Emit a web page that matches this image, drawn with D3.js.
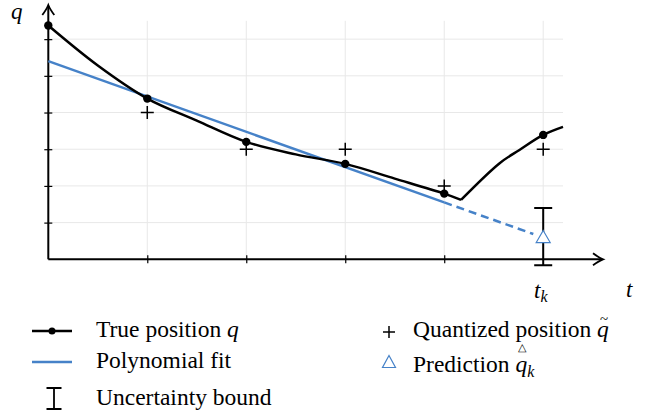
<html><body style="margin:0">
<svg width="650" height="416"></svg>
<script src="https://d3js.org/d3.v7.min.js"></script>
<script>

// true trajectory (sampled dots) and the curve through it
var dotT = [0, 1, 2, 3, 4, 5];
var dotQ = [6.37, 4.38, 3.2, 2.6, 1.79, 3.39];
var curveT1 = [0, 0.5, 1, 1.5, 2, 2.5, 3, 3.5, 4, 4.17];
var curveQ1 = [6.37, 5.28, 4.38, 3.78, 3.2, 2.86, 2.6, 2.2, 1.79, 1.62];
var curveT2 = [4.17, 4.56, 4.76, 5, 5.2];
var curveQ2 = [1.62, 2.62, 2.98, 3.39, 3.61];

// quantized positions
var quantT = [1, 2, 3, 4, 5];
var quantQ = [4, 3, 3, 2, 3];

// polynomial fit, solid then dashed extrapolation
var fitT = [0, 4];
var fitQ = [5.4, 1.55];
var extT = [4, 4.9];
var extQ = [1.55, 0.69];

// prediction and its bound
var predT = 5;
var predQ = 0.62;
var bound = 0.78;

var xTicks = [1, 2, 3, 4];
var yTicks = [1, 2, 3, 4, 5, 6];
var gridX = [1, 2, 3, 4, 5];

var blue = "#4682c8";
var fam = "'Liberation Serif'";

var svg = d3.select("svg");

var x = d3.scaleLinear().domain([0, 5.2]).range([48.3, 563]);
var y = d3.scaleLinear().domain([0, 6.5]).range([259.3, 20.8]);

// grid
var grid = svg.append("g").attr("stroke", "#e8e8e8").attr("stroke-width", 1);
grid.selectAll(".gx").data(gridX).enter().append("line")
    .attr("x1", function(d) { return x(d); }).attr("x2", function(d) { return x(d); })
    .attr("y1", y(0)).attr("y2", y(6.5));
grid.selectAll(".gy").data(yTicks).enter().append("line")
    .attr("y1", function(d) { return y(d); }).attr("y2", function(d) { return y(d); })
    .attr("x1", x(0)).attr("x2", x(5.2));

// axes with ticks crossing the line
var xAxis = svg.append("g").attr("transform", "translate(0," + y(0) + ")")
    .call(d3.axisBottom(x).tickValues(xTicks).tickSize(4).tickFormat(""));
xAxis.select(".domain").remove();
xAxis.selectAll(".tick line").attr("y1", -4).attr("y2", 4).attr("stroke-width", 1.2);

var yAxis = svg.append("g").attr("transform", "translate(" + x(0) + ",0)")
    .call(d3.axisLeft(y).tickValues(yTicks).tickSize(4).tickFormat(""));
yAxis.select(".domain").remove();
yAxis.selectAll(".tick line").attr("x1", -4).attr("x2", 4).attr("stroke-width", 1.2);

svg.append("line").attr("x1", x(0)).attr("x2", 602).attr("y1", y(0)).attr("y2", y(0))
    .attr("stroke", "#000").attr("stroke-width", 2);
svg.append("line").attr("x1", x(0)).attr("x2", x(0)).attr("y1", y(0)).attr("y2", 6)
    .attr("stroke", "#000").attr("stroke-width", 2);
// arrow heads
var ax = 603, ay = y(0);
svg.append("path")
    .attr("d", "M" + (ax - 10) + "," + (ay - 6) + " Q" + (ax - 4) + "," + (ay - 1.5) + " " + ax + "," + ay +
               " Q" + (ax - 4) + "," + (ay + 1.5) + " " + (ax - 10) + "," + (ay + 6))
    .attr("fill", "none").attr("stroke", "#000").attr("stroke-width", 1.8);
var bx = x(0), by = 5;
svg.append("path")
    .attr("d", "M" + (bx - 6) + "," + (by + 10) + " Q" + (bx - 1.5) + "," + (by + 4) + " " + bx + "," + by +
               " Q" + (bx + 1.5) + "," + (by + 4) + " " + (bx + 6) + "," + (by + 10))
    .attr("fill", "none").attr("stroke", "#000").attr("stroke-width", 1.8);

// fit line
var lineFit = d3.line().x(function(d) { return x(d[0]); }).y(function(d) { return y(d[1]); });
svg.append("path").datum(d3.zip(fitT, fitQ)).attr("d", lineFit)
    .attr("fill", "none").attr("stroke", blue).attr("stroke-width", 2.5);
svg.append("path").datum(d3.zip(extT, extQ)).attr("d", lineFit)
    .attr("fill", "none").attr("stroke", blue).attr("stroke-width", 2.5)
    .attr("stroke-dasharray", "8,5");

// true trajectory
var lineTrue = d3.line().curve(d3.curveCatmullRom)
    .x(function(d) { return x(d[0]); }).y(function(d) { return y(d[1]); });
svg.append("path").datum(d3.zip(curveT1, curveQ1)).attr("d", lineTrue)
    .attr("fill", "none").attr("stroke", "#000").attr("stroke-width", 2.5).attr("stroke-linejoin", "round");
svg.append("path").datum(d3.zip(curveT2, curveQ2)).attr("d", lineTrue)
    .attr("fill", "none").attr("stroke", "#000").attr("stroke-width", 2.5).attr("stroke-linejoin", "round");
svg.selectAll(".dot").data(d3.zip(dotT, dotQ)).enter().append("circle")
    .attr("cx", function(d) { return x(d[0]); }).attr("cy", function(d) { return y(d[1]); })
    .attr("r", 4.2).attr("fill", "#000");

// quantized crosses
var cr = 6.5;
svg.selectAll(".cross").data(d3.zip(quantT, quantQ)).enter().append("path")
    .attr("d", function(d) {
      var cx = x(d[0]), cy = y(d[1]);
      return "M" + (cx - cr) + "," + cy + "H" + (cx + cr) + "M" + cx + "," + (cy - cr) + "V" + (cy + cr);
    })
    .attr("stroke", "#000").attr("stroke-width", 1.5);

// uncertainty bound
var ex = x(predT), eTop = y(predQ + bound), eBot = y(predQ - bound);
svg.append("path")
    .attr("d", "M" + ex + "," + eTop + "V" + eBot + "M" + (ex - 9) + "," + eTop + "H" + (ex + 9) +
               "M" + (ex - 9) + "," + eBot + "H" + (ex + 9))
    .attr("stroke", "#000").attr("stroke-width", 2).attr("fill", "none");

// prediction triangle
function tri(cx, cy, w, h) {
  return "M" + cx + "," + (cy - h / 2) + "L" + (cx + w / 2) + "," + (cy + h / 2) + "L" + (cx - w / 2) + "," + (cy + h / 2) + "Z";
}
svg.append("path").attr("d", tri(x(predT), y(predQ), 14, 12))
    .attr("fill", "#fff").attr("stroke", blue).attr("stroke-width", 1.2);

function label(g, px, py, size) {
  return g.append("text").attr("x", px).attr("y", py).attr("font-size", size)
      .style("font-family", fam);
}

// axis labels
label(svg, 11, 19, 23).style("font-style", "italic").text("q");
label(svg, 626, 297, 23).style("font-style", "italic").text("t");
var tk = label(svg, 534, 298, 23).style("font-style", "italic");
tk.append("tspan").text("t");
tk.append("tspan").attr("dy", 4).attr("font-size", 16).text("k");

// legend
var fs = 23.5;
var lg = svg.append("g");
lg.append("line").attr("x1", 32).attr("x2", 72).attr("y1", 331).attr("y2", 331)
    .attr("stroke", "#000").attr("stroke-width", 2.5);
lg.append("circle").attr("cx", 52).attr("cy", 331).attr("r", 3.5).attr("fill", "#000");
var t1 = label(lg, 96, 337, fs);
t1.append("tspan").text("True position ");
t1.append("tspan").style("font-style", "italic").text("q");

lg.append("line").attr("x1", 32).attr("x2", 72).attr("y1", 362).attr("y2", 362)
    .attr("stroke", blue).attr("stroke-width", 2.5);
label(lg, 96, 368, fs).text("Polynomial fit");

lg.append("path").attr("d", "M46.5,388H61.5M54,388V409M46.5,409H61.5")
    .attr("stroke", "#000").attr("stroke-width", 1.8).attr("fill", "none");
label(lg, 96, 405, fs).text("Uncertainty bound");

lg.append("path").attr("d", "M383,332H395M389,326V338").attr("stroke", "#000").attr("stroke-width", 1.5);
var t2 = label(lg, 413, 337, fs);
t2.append("tspan").text("Quantized position ");
var qq = t2.append("tspan").style("font-style", "italic").text("q");

lg.append("path").attr("d", tri(389, 361.5, 13, 12)).attr("fill", "none")
    .attr("stroke", blue).attr("stroke-width", 1.2);
var t3 = label(lg, 413, 372, fs);
t3.append("tspan").text("Prediction ");
var qk = t3.append("tspan").style("font-style", "italic").text("q");
t3.append("tspan").style("font-style", "italic").attr("dy", 5).attr("font-size", 16).text("k");

// accents drawn over the q glyphs
var qa = qq.node().getStartPositionOfChar(0);
label(lg, qa.x + 7, qa.y - 13, 15).attr("text-anchor", "middle").text("~");
var qb = qk.node().getStartPositionOfChar(0);
label(lg, qb.x + 7, 351, 11).attr("text-anchor", "middle").text("\u25B3");

</script>
</body>
</html>
